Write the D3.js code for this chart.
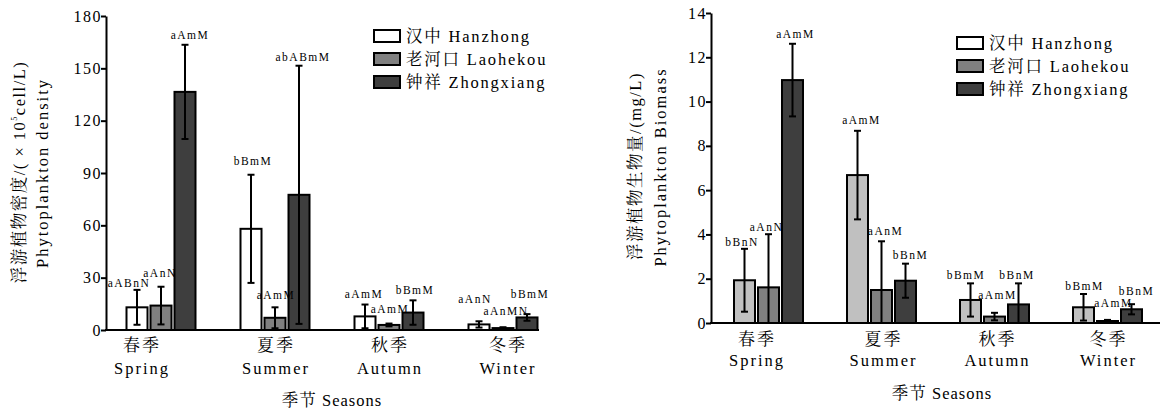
<!DOCTYPE html>
<html><head><meta charset="utf-8">
<script src="https://cdn.jsdelivr.net/npm/d3@7"></script>
<style>
html,body{margin:0;padding:0;background:#fff;}
svg text{font-family:"Liberation Serif","Noto Serif CJK SC","Noto Sans CJK SC",serif !important;fill:#000;}
</style>
</head><body>
<svg id="chart" width="1160" height="411"></svg>
<script>
// ---------------- data ----------------
const seasonsZh = ["春季", "夏季", "秋季", "冬季"];
const seasonsEn = ["Spring", "Summer", "Autumn", "Winter"];
const sites = ["汉中 Hanzhong", "老河口 Laohekou", "钟祥 Zhongxiang"];

const densityTicks = [0, 30, 60, 90, 120, 150, 180];
const densityHanzhong = [13, 58, 7.8, 3.2];
const densityHanzhongErr = [10, 31, 6.8, 1.8];
const densityLaohekou = [14, 7, 2.9, 1.1];
const densityLaohekouErr = [10.8, 6, 0.8, 0.5];
const densityZhongxiang = [136.5, 77.5, 10, 7.2];
const densityZhongxiangErr = [27, 74, 7, 1.9];
const densityLetters = [
  ["aABnN", "aAnN", "aAmM"],
  ["bBmM", "aAmM", "abABmM"],
  ["aAmM", "aAmM", "bBmM"],
  ["aAnN", "aAnMN", "bBmM"]
];

const biomassTicks = [0, 2, 4, 6, 8, 10, 12, 14];
const biomassHanzhong = [1.93, 6.68, 1.04, 0.71];
const biomassHanzhongErr = [1.42, 2.0, 0.75, 0.6];
const biomassLaohekou = [1.61, 1.49, 0.29, 0.09];
const biomassLaohekouErr = [2.4, 2.2, 0.17, 0.05];
const biomassZhongxiang = [10.97, 1.91, 0.84, 0.62];
const biomassZhongxiangErr = [1.64, 0.77, 0.95, 0.23];
const biomassLetters = [
  ["bBnN", "aAnN", "aAmM"],
  ["aAmM", "aAnM", "bBnM"],
  ["bBmM", "aAmM", "bBnM"],
  ["bBmM", "aAmM", "bBnM"]
];

// ---------------- layout / drawing ----------------
const svg = d3.select("#chart");

function buildRows(vals, errs, letters) {
  const rows = [];
  seasonsZh.forEach((s, i) => {
    sites.forEach((site, j) => {
      rows.push({ season: s, si: i, site, sj: j, v: vals[j][i], e: errs[j][i], lab: letters[i][j] });
    });
  });
  return rows;
}

function drawChart(cfg) {
  const g = svg.append("g");
  const x0 = d3.scaleBand().domain(seasonsZh).range(cfg.xRange);
  const x1 = d3.scaleBand().domain(sites).range([-34.5, 34.5]).paddingInner(0.125);
  const y = d3.scaleLinear().domain([0, d3.max(cfg.ticks)]).range(cfg.yRange);
  const color = d3.scaleOrdinal().domain(sites).range(cfg.colors);
  const cx = d => x0(d.season) + x0.bandwidth() / 2 + x1(d.site) + x1.bandwidth() / 2;

  // bars
  g.selectAll("rect.bar").data(cfg.rows).join("rect")
    .attr("x", d => x0(d.season) + x0.bandwidth() / 2 + x1(d.site))
    .attr("y", d => y(d.v))
    .attr("width", x1.bandwidth())
    .attr("height", d => y(0) - y(d.v))
    .attr("fill", d => color(d.site))
    .attr("stroke", "#000").attr("stroke-width", 2);

  // error bars
  const cap = 3.5;
  const eg = g.append("g").attr("stroke", "#000").attr("stroke-width", 2);
  cfg.rows.forEach(d => {
    const top = y(d.v + d.e), bot = y(Math.max(0, d.v - d.e)), c = cx(d);
    eg.append("line").attr("x1", c).attr("x2", c).attr("y1", top).attr("y2", bot);
    eg.append("line").attr("x1", c - cap).attr("x2", c + cap).attr("y1", top).attr("y2", top);
    eg.append("line").attr("x1", c - cap).attr("x2", c + cap).attr("y1", bot).attr("y2", bot);
  });

  // significance letters
  g.selectAll("text.lab").data(cfg.rows).join("text")
    .attr("x", (d, i) => cx(d) + cfg.labDx[i] + 1)
    .attr("y", (d, i) => y(d.v + d.e) - cfg.labLift[i])
    .attr("text-anchor", "middle")
    .attr("font-size", 11.5).attr("letter-spacing", 1.5)
    .text(d => d.lab);

  // y axis
  const ax = g.append("g").attr("transform", `translate(${cfg.axisX},0)`)
    .call(d3.axisLeft(y).tickValues(cfg.ticks).tickSize(5).tickSizeOuter(0).tickPadding(-1).tickFormat(d3.format("d")));
  ax.attr("font-family", null);
  ax.select(".domain").attr("stroke-width", 2);
  ax.selectAll(".tick line").attr("stroke-width", 2);
  ax.selectAll(".tick text").attr("font-size", 16).attr("letter-spacing", 1.5).attr("fill", "#000");

  // x axis baseline
  g.append("line").attr("x1", cfg.axisX - 1).attr("x2", cfg.axisEnd)
    .attr("y1", y(0)).attr("y2", y(0)).attr("stroke", "#000").attr("stroke-width", 2);

  // category labels
  seasonsZh.forEach((s, i) => {
    const c = x0(s) + x0.bandwidth() / 2 + cfg.catDx[i];
    g.append("text").attr("x", c + 1).attr("y", cfg.catY[0]).attr("text-anchor", "middle")
      .attr("dominant-baseline", "central").attr("font-size", 17).attr("letter-spacing", 2).text(s);
    g.append("text").attr("x", c + 1).attr("y", cfg.catY[1]).attr("text-anchor", "middle")
      .attr("dominant-baseline", "central").attr("font-size", 16.5).attr("letter-spacing", 2).text(seasonsEn[i]);
  });

  // x title
  g.append("text").attr("x", cfg.xTitle[0]).attr("y", cfg.xTitle[1]).attr("text-anchor", "middle")
    .attr("dominant-baseline", "central").attr("font-size", 16.5).attr("letter-spacing", 1).text("季节 Seasons");

  // y title
  const t1 = g.append("text").attr("transform", `translate(${cfg.yT1[0]},${cfg.yT1[1]}) rotate(-90)`)
    .attr("text-anchor", "middle").attr("dominant-baseline", "central")
    .attr("font-size", 16.5).attr("letter-spacing", 1.5);
  cfg.yTitle1(t1);
  g.append("text").attr("transform", `translate(${cfg.yT2[0]},${cfg.yT2[1]}) rotate(-90)`)
    .attr("text-anchor", "middle").attr("dominant-baseline", "central")
    .attr("font-size", 16.5).attr("letter-spacing", 2).text(cfg.yTitle2);

  // legend
  const lg = g.append("g").attr("transform", `translate(${cfg.legend[0]},${cfg.legend[1]})`);
  sites.forEach((s, j) => {
    lg.append("rect").attr("x", 0).attr("y", j * 23 - 6).attr("width", 26).attr("height", 12)
      .attr("fill", cfg.legendColors[j]).attr("stroke", "#000").attr("stroke-width", 2);
    lg.append("text").attr("x", 32).attr("y", j * 23).attr("dominant-baseline", "central")
      .attr("font-size", 16.5).attr("letter-spacing", 1.8).text(s);
  });
}

// Left chart: density
drawChart({
  rows: buildRows([densityHanzhong, densityLaohekou, densityZhongxiang],
                  [densityHanzhongErr, densityLaohekouErr, densityZhongxiangErr], densityLetters),
  ticks: densityTicks,
  xRange: [104, 560], yRange: [330, 16], axisX: 106, axisEnd: 539,
  colors: ["#ffffff", "#808080", "#3e3e3e"],
  legendColors: ["#ffffff", "#808080", "#3e3e3e"],
  labDx: [-9, -2, 4, 1, 0, 3, -2, 0, 1, -5, 2, 2],
  labLift: [3, 10, 6, 10, 8, 5, 7, 11, 6, 18, 12, 16],
  catDx: [-20, 0, 0, 4],
  catY: [345, 368],
  xTitle: [332, 400],
  yT1: [19, 172], yT2: [42, 173],
  yTitle1: t => {
    t.append("tspan").text("浮游植物密度/( × 10");
    t.append("tspan").attr("font-size", 8).attr("baseline-shift", "super").text("5");
    t.append("tspan").text("cell/L)");
  },
  yTitle2: "Phytoplankton density",
  legend: [374, 36]
});

// Right chart: biomass
drawChart({
  rows: buildRows([biomassHanzhong, biomassLaohekou, biomassZhongxiang],
                  [biomassHanzhongErr, biomassLaohekouErr, biomassZhongxiangErr], biomassLetters),
  ticks: biomassTicks,
  xRange: [712, 1164], yRange: [323, 13], axisX: 711, axisEnd: 1160,
  colors: ["#c0c0c0", "#808080", "#3e3e3e"],
  legendColors: ["#ffffff", "#808080", "#3e3e3e"],
  labDx: [-3.5, -3, 2, 3, 3, 4, -5.5, 2, -2.5, 0, 5, 4],
  labLift: [3, 3, 6, 7, 6, 5, 4, 14, 4, 4, 13, 9],
  catDx: [-12.5, 1, 2, 0],
  catY: [339.5, 360],
  xTitle: [942, 393],
  yT1: [635, 166], yT2: [660, 167],
  yTitle1: t => { t.text("浮游植物生物量/(mg/L)"); },
  yTitle2: "Phytoplankton Biomass",
  legend: [957, 43]
});
</script>
</body></html>
